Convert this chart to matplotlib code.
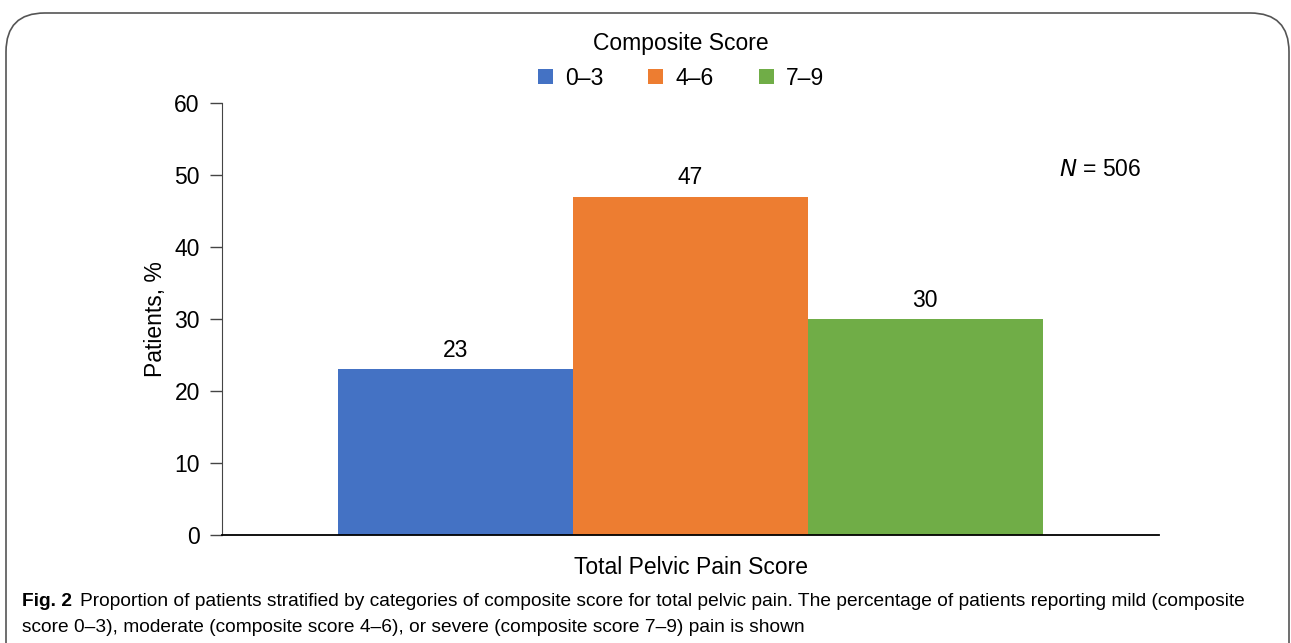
import matplotlib
matplotlib.use("Agg")
import matplotlib.pyplot as plt
from matplotlib.patches import FancyBboxPatch

categories = ["0\u20133", "4\u20136", "7\u20139"]
values = [23, 47, 30]
colors = ["#4472C4", "#ED7D31", "#70AD47"]
yticks = [0, 10, 20, 30, 40, 50, 60]

plt.rcParams['font.family'] = ['Liberation Sans', 'DejaVu Sans']

W, H = 1291, 643
fig = plt.figure(figsize=(W / 100, H / 100), dpi=100)

# frame
frame = FancyBboxPatch((6 / W, -0.2), (1289 - 6) / W, (H - 13) / H + 0.2,
                       boxstyle="round,pad=0,rounding_size=0.03",
                       transform=fig.transFigure, fill=False,
                       edgecolor="#555555", linewidth=1.2, mutation_aspect=W / H)
fig.add_artist(frame)

FS = 16.5
ax = fig.add_axes([222 / W, 1 - 535 / H, (1159 - 222) / W, (535 - 103) / H])
width = 0.2505
offsets = [-width, 0.0, width]
handles = []
for cat, v, c, off in zip(categories, values, colors, offsets):
    b = ax.bar(off, v, width=width, color=c, label=cat)
    handles.append(b)
    ax.text(off, v + 1.0, str(v), ha="center", va="bottom", fontsize=FS)

ax.set_xlim(-0.5, 0.5)
ax.set_ylim(0, 60)
ax.set_yticks(yticks)
ax.tick_params(axis='y', labelsize=FS, length=9, width=1.0, color="#444444", pad=7)
ax.set_xticks([])
ax.spines['top'].set_visible(False)
ax.spines['right'].set_visible(False)
ax.spines['left'].set_color("#444444")
ax.spines['bottom'].set_color("#000000")
ax.spines['bottom'].set_linewidth(1.3)
ax.set_ylabel("Patients, %", fontsize=FS, labelpad=5)
ax.set_xlabel("Total Pelvic Pain Score", fontsize=FS, labelpad=15)

ax.text(1059 / W, 1 - 170 / H, r"$\it{N}$ = 506", transform=fig.transFigure,
        fontsize=FS, va="center", ha="left")

leg = fig.legend(handles=handles, labels=categories, title="Composite Score",
                 loc="center", bbox_to_anchor=(681 / W, 1 - 61 / H), ncol=3,
                 frameon=False, fontsize=FS, title_fontsize=FS,
                 handlelength=0.65, handleheight=0.65, columnspacing=1.95,
                 handletextpad=0.55, labelspacing=0.2)
leg._legend_box.sep = 8

CFS = 13.8
t1 = fig.text(22 / W, 1 - 601 / H, "Fig. 2", fontsize=CFS, fontweight="bold",
              va="center", ha="left")
fig.canvas.draw()
bb = t1.get_window_extent()
x2 = (bb.x1 + 8) / W
fig.text(x2, 1 - 601 / H,
         "Proportion of patients stratified by categories of composite score for total pelvic pain. The percentage of patients reporting mild (composite",
         fontsize=CFS, va="center", ha="left")
fig.text(22 / W, 1 - 628 / H,
         "score 0\u20133), moderate (composite score 4\u20136), or severe (composite score 7\u20139) pain is shown",
         fontsize=CFS, va="center", ha="left")

fig.savefig("out.png", dpi=100)
